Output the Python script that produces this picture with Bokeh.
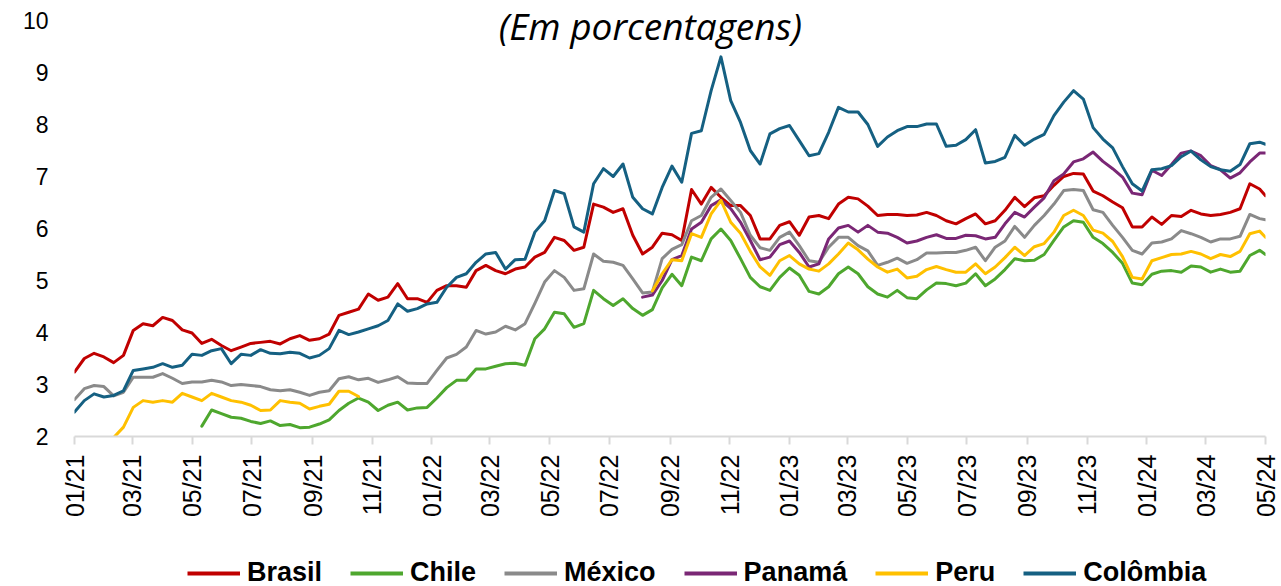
import numpy as np
import pandas as pd
from bokeh.plotting import figure
from bokeh.layouts import column
from bokeh.models import (Range1d, FixedTicker, DatetimeTickFormatter, Legend,
                          LegendItem, Label, ColumnDataSource)
from bokeh.embed import file_html
from bokeh.resources import INLINE

dates = list(pd.date_range("2021-01-01", periods=122, freq="10D")) + [pd.Timestamp("2024-05-01")]

tick_labels = ["01/21", "03/21", "05/21", "07/21", "09/21", "11/21",
               "01/22", "03/22", "05/22", "07/22", "09/22", "11/22",
               "01/23", "03/23", "05/23", "07/23", "09/23", "11/23",
               "01/24", "03/24", "05/24"]
y_ticks = [2, 3, 4, 5, 6, 7, 8, 9, 10]

names = ["Brasil", "Chile", "México", "Panamá", "Peru", "Colômbia"]
colors = ["#C00000", "#4EA72E", "#8A8A8A", "#7A2775", "#FFC000", "#156082"]

brasil = [3.24, 3.50, 3.60, 3.53, 3.42, 3.56, 4.04, 4.17, 4.13, 4.29,
          4.23, 4.05, 3.99, 3.79, 3.87, 3.75, 3.65, 3.72, 3.79, 3.81,
          3.83, 3.78, 3.88, 3.94, 3.85, 3.88, 3.97, 4.33, 4.39, 4.45,
          4.74, 4.62, 4.68, 4.94, 4.65, 4.65, 4.58, 4.81, 4.90, 4.90,
          4.87, 5.19, 5.29, 5.19, 5.13, 5.22, 5.26, 5.45, 5.54, 5.83,
          5.77, 5.58, 5.64, 6.47, 6.41, 6.31, 6.38, 5.87, 5.51, 5.64,
          5.91, 5.88, 5.77, 6.75, 6.47, 6.79, 6.60, 6.44, 6.44, 6.25,
          5.80, 5.80, 6.06, 6.13, 5.87, 6.22, 6.25, 6.19, 6.47, 6.60,
          6.57, 6.43, 6.25, 6.27, 6.27, 6.25, 6.26, 6.31, 6.25, 6.15,
          6.09, 6.19, 6.28, 6.09, 6.15, 6.35, 6.60, 6.42, 6.59, 6.63,
          6.83, 7.00, 7.06, 7.05, 6.72, 6.63, 6.51, 6.40, 6.03, 6.03,
          6.22, 6.08, 6.25, 6.23, 6.35, 6.28, 6.25, 6.27, 6.31, 6.38,
          6.86, 6.76, 6.63]

chile = [None, None, None, None, None, None, None, None, None, None,
         None, None, None, 2.20, 2.51, 2.44, 2.37, 2.35, 2.29, 2.25,
         2.30, 2.21, 2.23, 2.17, 2.18, 2.24, 2.32, 2.50, 2.64, 2.74,
         2.66, 2.50, 2.60, 2.66, 2.51, 2.55, 2.56, 2.74, 2.94, 3.08,
         3.08, 3.30, 3.30, 3.35, 3.40, 3.41, 3.37, 3.88, 4.07, 4.39,
         4.36, 4.10, 4.17, 4.81, 4.65, 4.52, 4.65, 4.46, 4.33, 4.44,
         4.86, 5.12, 4.90, 5.45, 5.38, 5.80, 5.99, 5.77, 5.42, 5.06,
         4.88, 4.81, 5.06, 5.24, 5.10, 4.79, 4.74, 4.88, 5.13, 5.26,
         5.13, 4.88, 4.74, 4.68, 4.81, 4.67, 4.65, 4.82, 4.95, 4.94,
         4.90, 4.95, 5.13, 4.90, 5.03, 5.21, 5.42, 5.38, 5.39, 5.50,
         5.77, 6.03, 6.15, 6.12, 5.83, 5.71, 5.54, 5.33, 4.95, 4.92,
         5.12, 5.18, 5.19, 5.16, 5.28, 5.26, 5.16, 5.22, 5.16, 5.18,
         5.48, 5.58, 5.50]

mexico = [2.71, 2.92, 2.98, 2.96, 2.78, 2.85, 3.14, 3.14, 3.14, 3.21,
          3.12, 3.02, 3.05, 3.05, 3.08, 3.05, 2.98, 3.00, 2.98, 2.96,
          2.90, 2.88, 2.90, 2.85, 2.79, 2.85, 2.88, 3.11, 3.15, 3.09,
          3.12, 3.04, 3.09, 3.15, 3.03, 3.02, 3.02, 3.27, 3.51, 3.58,
          3.72, 4.04, 3.97, 4.01, 4.12, 4.05, 4.17, 4.56, 4.97, 5.19,
          5.06, 4.81, 4.84, 5.51, 5.37, 5.35, 5.29, 5.03, 4.76, 4.78,
          5.42, 5.60, 5.69, 6.15, 6.25, 6.60, 6.76, 6.54, 6.31, 5.87,
          5.63, 5.58, 5.83, 5.93, 5.67, 5.38, 5.35, 5.64, 5.83, 5.83,
          5.67, 5.57, 5.29, 5.35, 5.43, 5.33, 5.40, 5.53, 5.53, 5.54,
          5.54, 5.58, 5.64, 5.38, 5.64, 5.76, 6.04, 5.83, 6.06, 6.25,
          6.47, 6.73, 6.75, 6.73, 6.36, 6.31, 6.06, 5.83, 5.58, 5.51,
          5.72, 5.74, 5.80, 5.96, 5.90, 5.83, 5.74, 5.80, 5.80, 5.85,
          6.27, 6.19, 6.17]

panama = [None] * 58 + [
          4.68, 4.72,
          5.00, 5.40, 5.48, 5.99, 6.12, 6.44, 6.55, 6.38, 6.12, 5.77,
          5.40, 5.45, 5.69, 5.76, 5.54, 5.26, 5.32, 5.80, 6.01, 6.06,
          5.93, 6.06, 5.93, 5.91, 5.83, 5.72, 5.76, 5.83, 5.88, 5.81,
          5.81, 5.87, 5.86, 5.80, 5.83, 6.09, 6.31, 6.22, 6.41, 6.59,
          6.92, 7.05, 7.28, 7.34, 7.47, 7.29, 7.15, 6.99, 6.68, 6.65,
          7.12, 7.02, 7.23, 7.45, 7.49, 7.40, 7.21, 7.13, 6.97, 7.07,
          7.28, 7.45, 7.45]

peru = [None, None, None, None, 1.98, 2.18, 2.56, 2.69, 2.66, 2.69,
        2.66, 2.83, 2.76, 2.69, 2.83, 2.76, 2.69, 2.66, 2.60, 2.50,
        2.51, 2.69, 2.66, 2.64, 2.53, 2.58, 2.62, 2.87, 2.87, 2.77] + [None] * 29 + [
        4.80,
        5.13, 5.40, 5.38, 5.90, 5.83, 6.28, 6.54, 6.12, 5.91, 5.56,
        5.26, 5.10, 5.38, 5.48, 5.32, 5.22, 5.18, 5.32, 5.51, 5.72,
        5.59, 5.41, 5.26, 5.16, 5.22, 5.05, 5.08, 5.21, 5.27, 5.21,
        5.16, 5.16, 5.32, 5.13, 5.26, 5.44, 5.64, 5.48, 5.65, 5.71,
        5.93, 6.25, 6.35, 6.25, 5.97, 5.91, 5.75, 5.46, 5.06, 5.03,
        5.38, 5.44, 5.50, 5.51, 5.56, 5.51, 5.42, 5.50, 5.46, 5.56,
        5.90, 5.95, 5.83]

colombia = [2.47, 2.69, 2.82, 2.76, 2.79, 2.88, 3.27, 3.30, 3.33, 3.40,
            3.33, 3.37, 3.58, 3.56, 3.65, 3.69, 3.40, 3.58, 3.56, 3.67,
            3.60, 3.59, 3.62, 3.60, 3.51, 3.56, 3.69, 4.04, 3.96, 4.01,
            4.07, 4.13, 4.23, 4.55, 4.41, 4.46, 4.55, 4.58, 4.87, 5.06,
            5.13, 5.35, 5.51, 5.54, 5.22, 5.40, 5.41, 5.93, 6.15, 6.73,
            6.67, 6.03, 5.93, 6.86, 7.15, 7.00, 7.24, 6.60, 6.38, 6.28,
            6.79, 7.20, 6.89, 7.83, 7.88, 8.65, 9.30, 8.46, 8.04, 7.50,
            7.24, 7.82, 7.92, 7.98, 7.69, 7.40, 7.44, 7.85, 8.33, 8.24,
            8.24, 8.00, 7.58, 7.76, 7.88, 7.96, 7.96, 8.01, 8.01, 7.58,
            7.60, 7.71, 7.90, 7.26, 7.29, 7.37, 7.79, 7.60, 7.72, 7.81,
            8.17, 8.43, 8.65, 8.49, 7.94, 7.72, 7.55, 7.19, 6.86, 6.72,
            7.13, 7.15, 7.21, 7.38, 7.49, 7.32, 7.19, 7.13, 7.10, 7.23,
            7.63, 7.66, 7.62]

series = [brasil, chile, mexico, panama, peru, colombia]

# ---- main figure ----
x_start = pd.Timestamp("2021-01-01")
x_end = pd.Timestamp("2024-05-01")
# frame reaches the top of the page so the subtitle is not clipped;
# 1 unit = 52 px, so the extra 20 px above 10 is 20/52 of a unit
y_top = 10 + 20 / 52

p = figure(width=1280, height=530, x_axis_type="datetime",
           x_range=Range1d(x_start, x_end), y_range=Range1d(2, y_top),
           output_backend="svg", toolbar_location=None,
           min_border_left=74, min_border_right=15,
           min_border_top=0, min_border_bottom=94)
p.outline_line_color = None
p.xgrid.visible = False
p.ygrid.visible = False
p.background_fill_color = "white"
p.border_fill_color = "white"

sources = []
for name, vals, col in zip(names, series, colors):
    src = ColumnDataSource(dict(x=dates, y=np.array(vals, dtype=float)))
    sources.append(src)
    p.line("x", "y", source=src, line_color=col, line_width=3,
           line_join="round", line_cap="round")

# x axis
tick_ms = []
for lab in tick_labels:
    mm, yy = lab.split("/")
    tick_ms.append(pd.Timestamp(year=2000 + int(yy), month=int(mm), day=1).value / 1e6)
xa = p.xaxis[0]
xa.ticker = FixedTicker(ticks=tick_ms)
fmt = "%m/%y"
xa.formatter = DatetimeTickFormatter(days=fmt, months=fmt, years=fmt, hours=fmt,
                                     hourmin=fmt, minutes=fmt, minsec=fmt,
                                     seconds=fmt, milliseconds=fmt, microseconds=fmt)
xa.major_label_orientation = np.pi / 2
xa.axis_line_color = "#D9D9D9"
xa.axis_line_width = 2
xa.major_tick_line_color = "#D9D9D9"
xa.major_tick_line_width = 2
xa.major_tick_out = 8
xa.major_tick_in = 0
xa.minor_tick_line_color = None
xa.major_label_standoff = 10
xa.major_label_text_font = "Liberation Sans"
xa.major_label_text_font_size = "25px"
xa.major_label_text_color = "#000000"

# y axis
ya = p.yaxis[0]
ya.ticker = FixedTicker(ticks=y_ticks)
ya.axis_line_color = None
ya.major_tick_line_color = None
ya.minor_tick_line_color = None
ya.major_label_standoff = 20
ya.major_label_text_font = "Liberation Sans"
ya.major_label_text_font_size = "23px"
ya.major_label_text_color = "#000000"

# subtitle inside the plot area
title_x = pd.Timestamp("2022-08-12").value / 1e6
p.add_layout(Label(x=title_x, y=9.91, text="(Em porcentagens)",
                   text_font="Open Sans", text_font_style="italic",
                   text_font_size="37px", text_align="center",
                   text_baseline="alphabetic", text_color="#000000"))

# ---- legend strip below (series drawn off-screen, only the legend shows) ----
lp = figure(width=1280, height=56, x_axis_type="datetime",
            x_range=Range1d(x_start, x_end), y_range=Range1d(100, 101),
            output_backend="svg", toolbar_location=None,
            x_axis_location=None, y_axis_location=None,
            min_border_left=0, min_border_right=0, min_border_top=0, min_border_bottom=0)
lp.outline_line_color = None
lp.xgrid.visible = False
lp.ygrid.visible = False
lp.border_fill_color = "white"
lp.background_fill_color = "white"

items = []
for name, src, col in zip(names, sources, colors):
    r = lp.line("x", "y", source=src, line_color=col, line_width=4)
    items.append(LegendItem(label=name, renderers=[r]))

legend = Legend(items=items, orientation="horizontal", location=(113, -2),
                glyph_width=53, glyph_height=20, label_standoff=7, spacing=28,
                padding=0, margin=0, border_line_color=None,
                background_fill_alpha=0,
                label_text_font="Liberation Sans", label_text_font_style="bold",
                label_text_font_size="27px", label_text_color="#000000")
lp.add_layout(legend, "center")

open("out.html", "w").write(file_html(column(p, lp, spacing=0), INLINE))
